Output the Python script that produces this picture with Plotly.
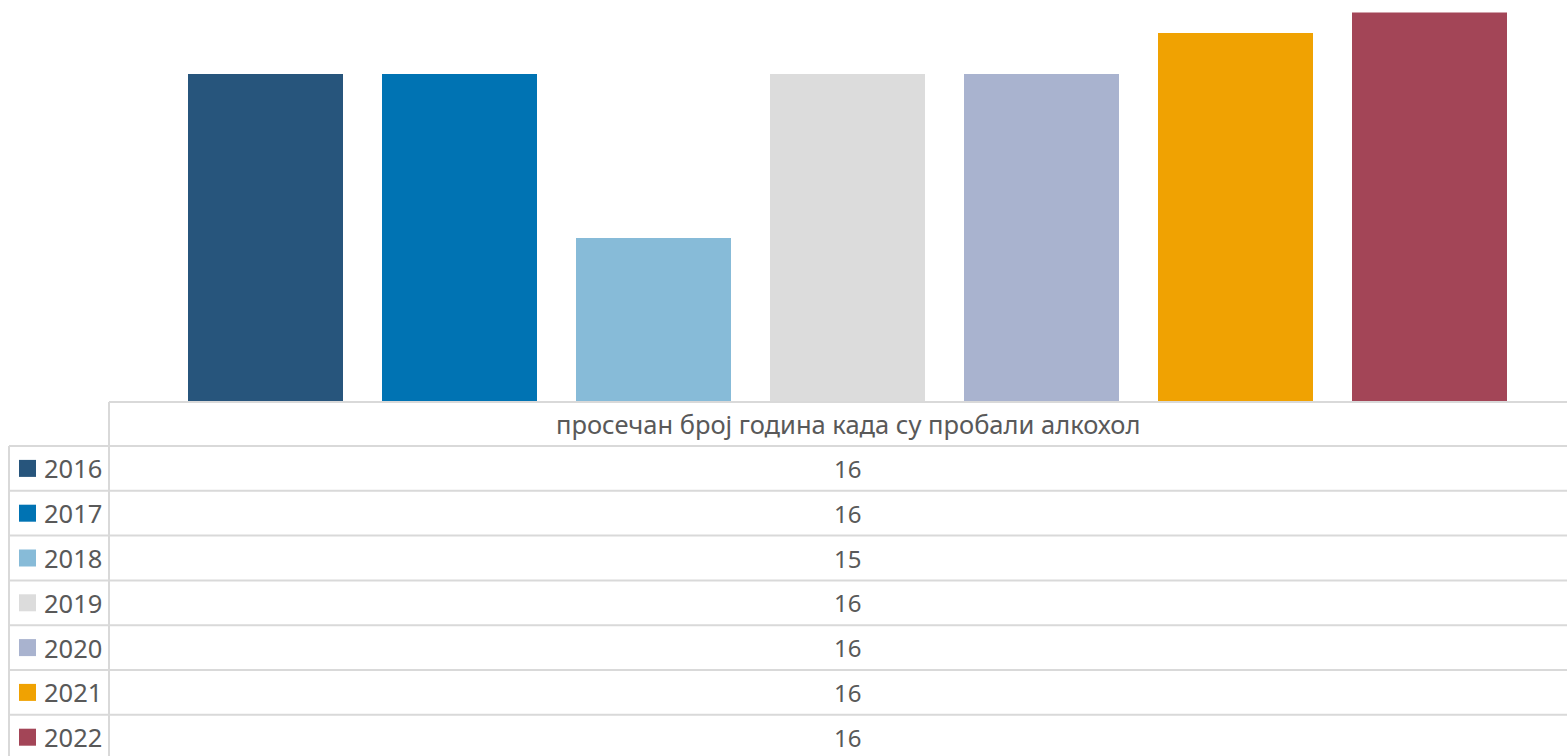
import plotly.graph_objects as go

years = ["2016", "2017", "2018", "2019", "2020", "2021", "2022"]
values = [15.8, 15.8, 15.4, 15.8, 15.8, 15.9, 15.95]
colors = ["#27557c", "#0073b3", "#87bbd8", "#dcdcdc", "#a9b3cf", "#f0a202", "#a34557"]
series_name = "просечан број година када су пробали алкохол"

W, H = 1567, 756
base_px = 402
px_per_unit = 410
y_min = 15.0

def py(p):
    return 1 - p / H

def pxx(p):
    return p / W

fig = go.Figure()
fig.add_trace(go.Bar(x=years, y=values, marker=dict(color=colors, line=dict(width=0)),
                     hoverinfo="skip", showlegend=False))

TXT = "#595959"
LINE = "#d9d9d9"
FONT = "Noto Sans"

shapes = []
annotations = []
row_top = 446
row_h = 44.8
n = len(years)
# header top line
shapes.append(dict(type="line", xref="paper", yref="paper", x0=pxx(109), x1=1, y0=py(402), y1=py(402),
                   line=dict(color=LINE, width=2)))
# row lines
for i in range(n + 1):
    yy = row_top + i * row_h
    shapes.append(dict(type="line", xref="paper", yref="paper", x0=pxx(9), x1=1, y0=py(yy), y1=py(yy),
                       line=dict(color=LINE, width=2)))
# vertical lines
shapes.append(dict(type="line", xref="paper", yref="paper", x0=pxx(109), x1=pxx(109), y0=py(402), y1=0,
                   line=dict(color=LINE, width=2)))
shapes.append(dict(type="line", xref="paper", yref="paper", x0=pxx(9), x1=pxx(9), y0=py(446), y1=0,
                   line=dict(color=LINE, width=2)))

annotations.append(dict(text=series_name, xref="paper", yref="paper", x=pxx(848), y=py(424),
                        showarrow=False, xanchor="center", yanchor="middle",
                        font=dict(family=FONT, size=25.5, color=TXT)))
for i, (yr, v, c) in enumerate(zip(years, values, colors)):
    cy = row_top + (i + 0.5) * row_h
    shapes.append(dict(type="rect", xref="paper", yref="paper", x0=pxx(19), x1=pxx(36),
                       y0=py(cy - 8.5), y1=py(cy + 8.5), fillcolor=c, line=dict(width=0)))
    annotations.append(dict(text=yr, xref="paper", yref="paper", x=pxx(42), y=py(cy),
                            showarrow=False, xanchor="left", yanchor="middle",
                            font=dict(family=FONT, size=25.5, color=TXT)))
    annotations.append(dict(text=f"{round(v):d}", xref="paper", yref="paper", x=pxx(847), y=py(cy),
                            showarrow=False, xanchor="center", yanchor="middle",
                            font=dict(family=FONT, size=24, color=TXT)))

slot = 194
first_center = 265.5
fig.update_layout(
    width=W, height=H,
    margin=dict(l=0, r=0, t=0, b=0),
    paper_bgcolor="white", plot_bgcolor="white",
    bargap=1 - 155 / slot,
    hovermode=False,
    xaxis=dict(type="category", range=[-first_center / slot, (W - first_center) / slot],
               visible=False, domain=[0, 1], fixedrange=True),
    yaxis=dict(range=[y_min, y_min + base_px / px_per_unit], visible=False,
               domain=[1 - base_px / H, 1], fixedrange=True),
    shapes=shapes, annotations=annotations,
)
fig.write_html("out.html", config={"displayModeBar": False, "staticPlot": True},
               post_script="document.body.style.margin='0';document.body.style.overflow='hidden';")
